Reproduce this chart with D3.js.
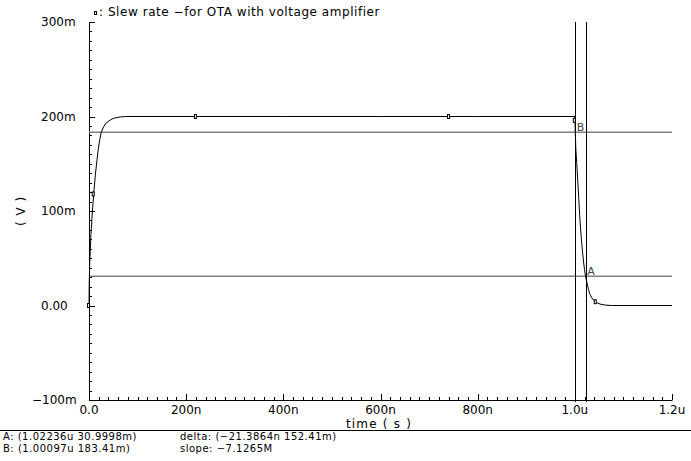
<!DOCTYPE html>
<html>
<head>
<meta charset="utf-8">
<script src="https://cdn.jsdelivr.net/npm/d3@7"></script>
<style>
  body { margin: 0; background: #fff; }
  text { font-family: "DejaVu Sans", sans-serif; fill: #000; }
</style>
</head>
<body>
<div id="chart"></div>
<script>
let svgWidth = 691;
let svgHeight = 461;

// plot area in pixels
let plotLeft = 89, plotRight = 672, plotTop = 22, plotBottom = 400;

// waveform data (time in ns, voltage in mV)
let timeNs = [0, 0.5, 1.5, 4, 7, 9.7, 13, 16, 19, 22, 25, 30, 35, 43, 50, 64, 75, 200, 400, 600, 800, 1000,
  1000.5, 1001, 1002, 1004, 1006, 1008, 1010, 1012, 1014, 1016, 1018, 1020, 1022, 1025, 1028, 1031, 1035,
  1040, 1045, 1052, 1062, 1075, 1200];
let voltMv = [0, 25, 45, 75, 100, 118, 138, 152, 165, 175, 183, 189, 193, 196, 198, 199.5, 200, 200, 200, 200, 200, 200,
  192, 183, 166, 150, 132, 114, 95, 80, 67, 56, 46, 38, 31, 24, 17, 12, 8,
  5, 3, 1.5, 0.5, 0, 0];

// waveform symbol markers
let markerNs = [0, 9.7, 220, 741, 1000, 1043];
let markerMv = [0, 118, 200, 200, 196, 4];

// cursors
let cursorNames = ["A", "B"];
let cursorNs = [1022.36, 1000.97];
let cursorMv = [30.9998, 183.41];

// axis ticks
let xTicks = [0, 200, 400, 600, 800, 1000, 1200];
let xTickLabels = ["0.0", "200n", "400n", "600n", "800n", "1.0u", "1.2u"];
let yTicks = [-100, 0, 100, 200, 300];
let yTickLabels = ["\u2212100m", "0.00", "100m", "200m", "300m"];

let titleText = ": Slew rate \u2212for OTA with voltage amplifier";
let readoutLeft = ["A: (1.02236u 30.9998m)", "B: (1.00097u 183.41m)"];
let readoutRight = ["delta: (\u221221.3864n 152.41m)", "slope: \u22127.1265M"];

let svg = d3.select("#chart")
  .append("svg")
  .attr("width", svgWidth)
  .attr("height", svgHeight);

let x = d3.scaleLinear().domain([0, 1200]).range([plotLeft, plotRight]);
let y = d3.scaleLinear().domain([-100, 300]).range([plotBottom, plotTop]);

// axes with inward ticks
let xMinor = d3.range(0, 1201, 20);
let yMinor = d3.range(-100, 301, 10);

let axisG = svg.append("g").attr("stroke", "#000").attr("stroke-width", 1);

axisG.append("line")
  .attr("x1", plotLeft + 0.5).attr("x2", plotLeft + 0.5)
  .attr("y1", y(300)).attr("y2", plotBottom + 0.5);
axisG.append("line")
  .attr("x1", plotLeft).attr("x2", plotRight + 0.5)
  .attr("y1", plotBottom + 0.5).attr("y2", plotBottom + 0.5);

axisG.selectAll(".xt")
  .data(xMinor)
  .enter()
  .append("line")
  .attr("x1", d => Math.round(x(d)) + 0.5)
  .attr("x2", d => Math.round(x(d)) + 0.5)
  .attr("y1", plotBottom)
  .attr("y2", d => plotBottom - (d % 200 === 0 ? 6 : 3));

axisG.selectAll(".yt")
  .data(yMinor)
  .enter()
  .append("line")
  .attr("y1", d => Math.round(y(d)) + 0.5)
  .attr("y2", d => Math.round(y(d)) + 0.5)
  .attr("x1", plotLeft)
  .attr("x2", d => plotLeft + (d % 100 === 0 ? 6 : 3));

svg.selectAll(".xlab")
  .data(xTicks)
  .enter()
  .append("text")
  .attr("x", d => x(d))
  .attr("y", plotBottom + 14)
  .attr("text-anchor", "middle")
  .style("font-size", "12px")
  .text((d, i) => xTickLabels[i]);

svg.selectAll(".ylab")
  .data(yTicks)
  .enter()
  .append("text")
  .attr("x", d => d < 0 ? 32 : 41)
  .attr("y", d => y(d) + 4)
  .style("font-size", "12px")
  .text((d, i) => yTickLabels[i]);

svg.append("text")
  .attr("x", 379)
  .attr("y", 428)
  .attr("text-anchor", "middle")
  .style("font-size", "12px")
  .style("letter-spacing", "1.2px")
  .text("time ( s )");

svg.append("text")
  .attr("transform", `translate(25, ${y(100)}) rotate(-90)`)
  .attr("text-anchor", "middle")
  .style("font-size", "12px")
  .style("letter-spacing", "1px")
  .text("( V )");

// title with symbol
svg.append("rect")
  .attr("x", 94.5).attr("y", 11.5)
  .attr("width", 2).attr("height", 3)
  .attr("fill", "#fff").attr("stroke", "#000");
svg.append("text")
  .attr("x", 99)
  .attr("y", 16)
  .style("font-size", "12px")
  .style("letter-spacing", "0.55px")
  .text(titleText);

// cursor lines
svg.selectAll(".hcur")
  .data(cursorMv)
  .enter()
  .append("line")
  .attr("x1", plotLeft).attr("x2", plotRight)
  .attr("y1", d => y(d)).attr("y2", d => y(d))
  .attr("stroke", "#808080")
  .attr("stroke-width", 1.5);

svg.selectAll(".vcur")
  .data(cursorNs)
  .enter()
  .append("line")
  .attr("x1", d => Math.round(x(d)) + 0.5).attr("x2", d => Math.round(x(d)) + 0.5)
  .attr("y1", plotTop).attr("y2", plotBottom + 2)
  .attr("stroke", "#000")
  .attr("stroke-width", 1);

svg.selectAll(".clab")
  .data(cursorNames)
  .enter()
  .append("text")
  .attr("x", (d, i) => x(cursorNs[i]) + 1.5)
  .attr("y", (d, i) => y(cursorMv[i]) - 1)
  .style("font-size", "11px")
  .style("fill", "#444")
  .text(d => d);

// waveform
let points = timeNs.map((t, i) => [t, voltMv[i]]);
let line = d3.line()
  .x(d => x(d[0]))
  .y(d => y(d[1]));

svg.append("path")
  .datum(points)
  .attr("d", line)
  .attr("fill", "none")
  .attr("stroke", "#000")
  .attr("stroke-width", 1);

svg.selectAll(".mk")
  .data(markerNs)
  .enter()
  .append("rect")
  .attr("x", d => x(d) - 1.5)
  .attr("y", (d, i) => y(markerMv[i]) - 2)
  .attr("width", 2)
  .attr("height", 4)
  .attr("fill", "#fff")
  .attr("stroke", "#000");

// cursor readout below the plot
svg.append("line")
  .attr("x1", 0).attr("x2", svgWidth)
  .attr("y1", 430.5).attr("y2", 430.5)
  .attr("stroke", "#000");

svg.selectAll(".rl")
  .data(readoutLeft)
  .enter()
  .append("text")
  .attr("x", 3)
  .attr("y", (d, i) => 440 + i * 12)
  .style("font-size", "10px")
  .style("letter-spacing", "0.5px")
  .text(d => d);

svg.selectAll(".rr")
  .data(readoutRight)
  .enter()
  .append("text")
  .attr("x", 180)
  .attr("y", (d, i) => 440 + i * 12)
  .style("font-size", "10px")
  .style("letter-spacing", "0.5px")
  .text(d => d);
</script>
</body>
</html>
